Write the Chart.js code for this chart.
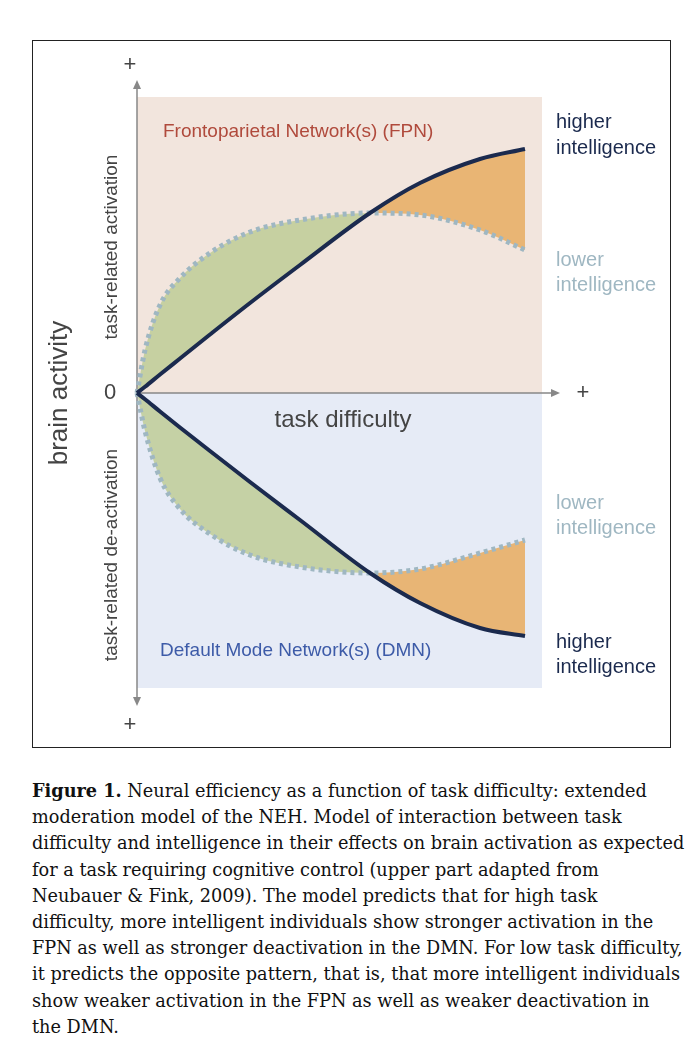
<!DOCTYPE html>
<html lang="en">
<head>
<meta charset="UTF-8" />
<title>Neural efficiency</title>
<script src="https://cdn.jsdelivr.net/npm/chart.js"></script>
<style>
  body { margin: 0; background: #fff; width: 700px; height: 1058px; position: relative; font-family: "DejaVu Serif", serif; }
  .frame { position: absolute; left: 32px; top: 40px; width: 637px; height: 706px; border: 1.5px solid #222; }
  .caption { position: absolute; left: 32px; top: 778px; font-size: 17.7px; line-height: 26.2px; color: #111; white-space: nowrap; }
</style>
</head>
<body>
<div class="frame"><canvas id="neh" width="637" height="706"></canvas></div>
<div class="caption">
<b>Figure 1.</b> Neural efficiency as a function of task difficulty: extended<br>
moderation model of the NEH. Model of interaction between task<br>
difficulty and intelligence in their effects on brain activation as expected<br>
for a task requiring cognitive control (upper part adapted from<br>
Neubauer &amp; Fink, 2009). The model predicts that for high task<br>
difficulty, more intelligent individuals show stronger activation in the<br>
FPN as well as stronger deactivation in the DMN. For low task difficulty,<br>
it predicts the opposite pattern, that is, that more intelligent individuals<br>
show weaker activation in the FPN as well as weaker deactivation in<br>
the DMN.
</div>
<script>
// task difficulty (x) in arbitrary units
const difficulty = [0, 0.8, 2.3, 4.3, 7.3, 11.3, 16.3, 23.3, 28.3, 34.3, 38.8];
// FPN activation (upper part)
const fpnHigher = [0, 0.62, 1.85, 3.45, 5.85, 9.0, 12.8, 18.0, 21.0, 23.4, 24.4];
const fpnLower  = [0, 4.3, 8.8, 11.5, 14.0, 16.1, 17.3, 18.0, 17.8, 16.3, 14.3];
// DMN de-activation (lower part)
const dmnHigher = [0, -0.62, -1.85, -3.45, -5.8, -8.9, -12.7, -18.0, -21.0, -23.5, -24.3];
const dmnLower  = [0, -3.8, -8.5, -11.6, -14.1, -16.2, -17.4, -18.0, -17.6, -16.0, -14.7];

const xMin = -10.4, xMax = 53.3, yMin = -35.4, yMax = 35.2;
const regionRight = 40.5, regionTop = 29.6, regionBottom = -29.5;

const green = "rgba(190,205,150,0.85)";
const orange = "rgba(232,178,110,0.95)";
const navy = "#1b2a4e";
const dotted = "#9fb7c2";

const pts = ys => difficulty.map((x, i) => ({ x, y: ys[i] }));

const decor = {
  id: "decor",
  beforeDatasetsDraw(chart) {
    const { ctx, scales: { x, y } } = chart;
    const x0 = x.getPixelForValue(0), x1 = x.getPixelForValue(regionRight);
    const y0 = y.getPixelForValue(0);
    ctx.save();
    ctx.fillStyle = "#f2e5dd";
    ctx.fillRect(x0, y.getPixelForValue(regionTop), x1 - x0, y0 - y.getPixelForValue(regionTop));
    ctx.fillStyle = "#e6ebf6";
    ctx.fillRect(x0, y0, x1 - x0, y.getPixelForValue(regionBottom) - y0);
    // axes
    ctx.strokeStyle = "#888"; ctx.fillStyle = "#888"; ctx.lineWidth = 1.5;
    const yt = y.getPixelForValue(30.5), yb = y.getPixelForValue(-30.5), xr = x.getPixelForValue(41.5);
    ctx.beginPath();
    ctx.moveTo(x0, yt); ctx.lineTo(x0, yb);
    ctx.moveTo(x0, y0); ctx.lineTo(xr, y0);
    ctx.stroke();
    const tri = (a, b, c) => { ctx.beginPath(); ctx.moveTo(...a); ctx.lineTo(...b); ctx.lineTo(...c); ctx.fill(); };
    tri([x0, yt - 8], [x0 - 4, yt + 1], [x0 + 4, yt + 1]);
    tri([x0, yb + 8], [x0 - 4, yb - 1], [x0 + 4, yb - 1]);
    tri([xr + 8, y0], [xr - 1, y0 - 4], [xr - 1, y0 + 4]);
    ctx.restore();
  },
  afterDatasetsDraw(chart) {
    const { ctx, scales: { x, y } } = chart;
    const px = v => x.getPixelForValue(v), py = v => y.getPixelForValue(v);
    const text = (s, xx, yy, font, color, align = "left") => {
      ctx.font = font; ctx.fillStyle = color; ctx.textAlign = align; ctx.textBaseline = "middle";
      ctx.fillText(s, xx, yy);
    };
    const sans = "Liberation Sans, Arial, sans-serif";
    ctx.save();
    text("Frontoparietal Network(s) (FPN)", px(2.6), py(26.1), "19px " + sans, "#b04a3c");
    text("Default Mode Network(s) (DMN)", px(2.3), py(-25.8), "19px " + sans, "#3d5ba8");
    text("task difficulty", px(20.6), py(-2.7), "24px " + sans, "#444", "center");
    text("0", px(-2.7), py(0), "22px " + sans, "#444", "center");
    text("+", px(-0.7), py(32.8), "22px " + sans, "#444", "center");
    text("+", px(-0.7), py(-33.2), "22px " + sans, "#444", "center");
    text("+", px(44.6), py(0), "22px " + sans, "#444", "center");
    const hx = px(41.9);
    text("higher", hx, py(27.1), "20px " + sans, navy);
    text("intelligence", hx, py(24.5), "20px " + sans, navy);
    text("lower", hx, py(13.3), "20px " + sans, dotted);
    text("intelligence", hx, py(10.8), "20px " + sans, dotted);
    text("lower", hx, py(-11.0), "20px " + sans, dotted);
    text("intelligence", hx, py(-13.5), "20px " + sans, dotted);
    text("higher", hx, py(-24.9), "20px " + sans, navy);
    text("intelligence", hx, py(-27.4), "20px " + sans, navy);
    const rot = (s, xx, yy, font) => {
      ctx.save(); ctx.translate(xx, yy); ctx.rotate(-Math.PI / 2);
      text(s, 0, 0, font, "#444", "center"); ctx.restore();
    };
    rot("brain activity", px(-7.7), py(0), "26px " + sans);
    rot("task-related activation", px(-2.5), py(14.6), "19px " + sans);
    rot("task-related de-activation", px(-2.5), py(-16.2), "19px " + sans);
    ctx.restore();
  }
};

new Chart(document.getElementById("neh"), {
  type: "line",
  data: {
    datasets: [
      { data: pts(fpnHigher), borderColor: navy, borderWidth: 4, fill: false, order: 1 },
      { data: pts(fpnLower), borderColor: dotted, borderWidth: 5, borderDash: [4, 4],
        fill: { target: 0, above: green, below: orange }, order: 2 },
      { data: pts(dmnHigher), borderColor: navy, borderWidth: 4, fill: false, order: 1 },
      { data: pts(dmnLower), borderColor: dotted, borderWidth: 5, borderDash: [4, 4],
        fill: { target: 2, above: orange, below: green }, order: 2 }
    ]
  },
  options: {
    responsive: false, animation: false,
    layout: { padding: 0 },
    elements: { point: { radius: 0 }, line: { cubicInterpolationMode: "monotone" } },
    plugins: { legend: { display: false }, tooltip: { enabled: false } },
    scales: {
      x: { type: "linear", min: xMin, max: xMax, display: false },
      y: { min: yMin, max: yMax, display: false }
    }
  },
  plugins: [decor]
});
</script>
</body>
</html>
